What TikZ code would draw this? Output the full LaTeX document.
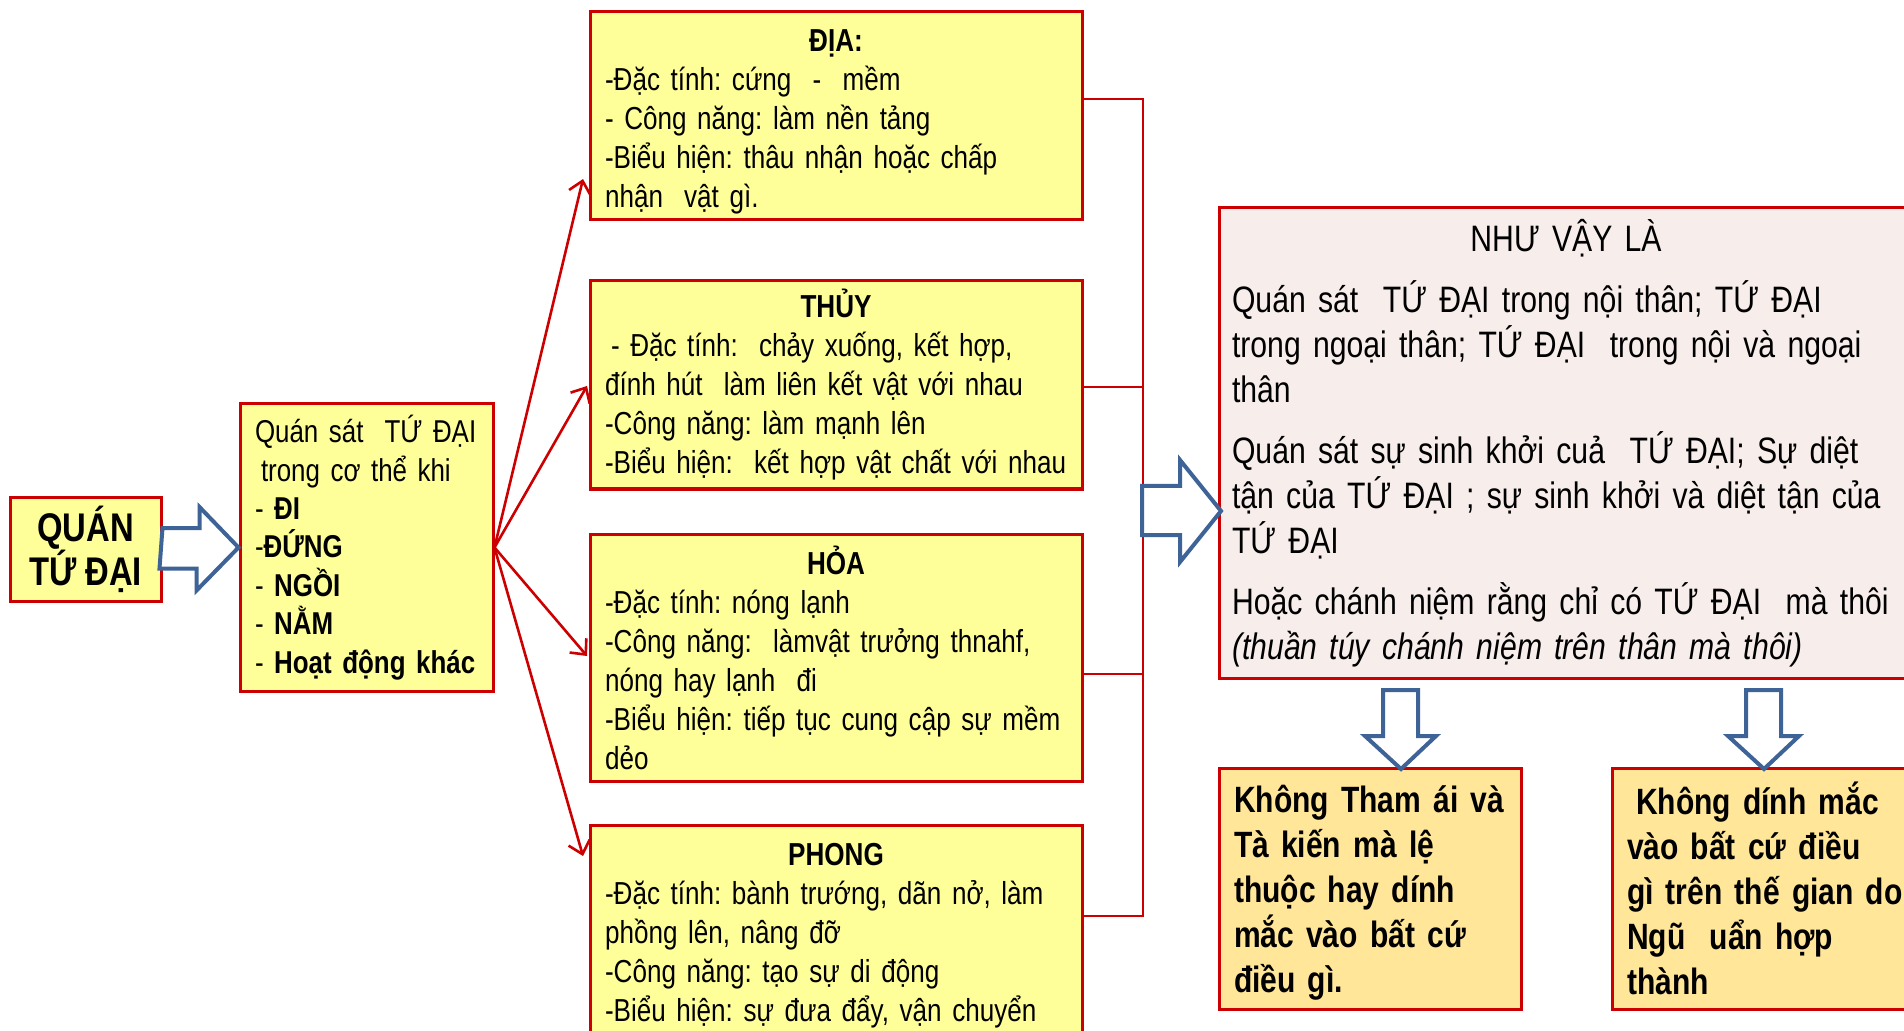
\documentclass[tikz,border=0pt]{standalone}
\usepackage{fontspec}
\setmainfont{Liberation Sans}[FakeStretch=0.82]
\usetikzlibrary{arrows.meta}
\frenchspacing
% small left pad used inside boxes with a narrow inner sep
\newcommand{\lpad}[1][2.5pt]{\hspace*{#1}}

\definecolor{boxred}{HTML}{CC0000}
\definecolor{paleyellow}{HTML}{FFFF99}
\definecolor{paleorange}{HTML}{FFE699}
\definecolor{palepink}{HTML}{F7EEEC}
\definecolor{arrowblue}{HTML}{3E6397}

\tikzset{
  panel/.style={draw=boxred, line width=1.5pt, inner xsep=7.5pt, inner ysep=0pt, align=left},
  elembox/.style={panel, fill=paleyellow, text width=231pt, minimum height=#1,
    font=\frenchspacing\fontsize{15.9}{19.5}\selectfont},
  resultbox/.style={panel, fill=paleorange, minimum height=120.5pt, inner xsep=5pt,
    font=\frenchspacing\bfseries\fontsize{18.3}{22.5}\selectfont},
  link/.style={draw=boxred, line width=1.3pt, line join=miter},
  fanarrow/.style={link, -{Straight Barb[length=6pt,width=11pt,line width=1.3pt]}},
  blockarrow/.style={draw=arrowblue, line width=2pt, fill=white, line join=miter},
}

\begin{document}
\begin{tikzpicture}[x=0.5pt, y=-0.5pt]
\useasboundingbox (0,0) rectangle (1904,1031);
\clip (0,0) rectangle (1904,1031);
\fill[white] (0,0) rectangle (1904,1031);

% title box and body-posture box
\node[panel, fill=paleyellow, align=center, minimum width=75.5pt, minimum height=52pt,
      inner xsep=0pt, font=\bfseries\fontsize{20}{22}\selectfont]
  (quan) at (85.5,549) {QUÁN\\TỨ ĐẠI};
\node[panel, fill=paleyellow, text width=117.5pt, minimum height=143.5pt, inner xsep=4.5pt,
      font=\frenchspacing\fontsize{15.8}{19.2}\selectfont]
  (qs) at (366.5,547.5) {\lpad[3pt]Quán sát~ TỨ ĐẠI\\
  \lpad[6pt]trong cơ thể khi\\
  \lpad[3pt]- \textbf{ĐI}\\
  \lpad[3pt]-\textbf{ĐỨNG}\\
  \lpad[3pt]- \textbf{NGỒI}\\
  \lpad[3pt]- \textbf{NẰM}\\
  \lpad[3pt]- \textbf{Hoạt động khác}};

% the four elements
\node[elembox=104pt] (dia) at (836,116) {\makebox[\hsize]{\rule{0pt}{16.6pt}\bfseries ĐỊA:}\\
  -Đặc tính: cứng~ -~ mềm\\
  - Công năng: làm nền tảng\\
  -Biểu hiện: thâu nhận hoặc chấp\\
  nhận~ vật gì.};
\node[elembox=104pt] (thuy) at (836,385) {\makebox[\hsize]{\bfseries THỦY}\\
  \lpad[3pt]- Đặc tính:~ chảy xuống, kết hợp,\\
  đính hút~ làm liên kết vật với nhau\\
  -Công năng: làm mạnh lên\\
  -Biểu hiện:~ kết hợp vật chất với nhau};
\node[elembox=123.5pt] (hoa) at (836,657.5) {\makebox[\hsize]{\bfseries HỎA}\\
  -Đặc tính: nóng lạnh\\
  -Công năng:~ làmvật trưởng thnahf,\\
  nóng hay lạnh~ đi\\
  -Biểu hiện: tiếp tục cung cập sự mềm\\
  dẻo};
\node[elembox=105pt] (phong) at (836,930) {\makebox[\hsize]{\rule{0pt}{16.6pt}\bfseries PHONG}\\
  -Đặc tính: bành trướng, dãn nở, làm\\
  phồng lên, nâng đỡ\\
  -Công năng: tạo sự di động\\
  -Biểu hiện: sự đưa đẩy, vận chuyển};

% conclusion box
\node[panel, fill=palepink, text width=334pt, minimum height=235pt, inner xsep=6.5pt,
      font=\frenchspacing\fontsize{18.4}{22.5}\selectfont]
  (nhu) at (1566,443) {\makebox[\hsize]{NHƯ VẬY LÀ}\\[8pt]
  Quán sát~ TỨ ĐẠI trong nội thân; TỨ ĐẠI\\
  trong ngoại thân; TỨ ĐẠI~ trong nội và ngoại\\
  thân\\[8pt]
  Quán sát sự sinh khởi cuả~ TỨ ĐẠI; Sự diệt\\
  tận của TỨ ĐẠI ; sự sinh khởi và diệt tận của\\
  TỨ ĐẠI\\[8pt]
  Hoặc chánh niệm rằng chỉ có TỨ ĐẠI~ mà thôi\\
  \textit{(thuần túy chánh niệm trên thân mà thôi)}};

% results
\node[resultbox, text width=141pt] (kq1) at (1370,888.5) {\lpad\rule{0pt}{18pt}Không Tham ái và\\
  \lpad Tà kiến mà lệ\\
  \lpad thuộc hay dính\\
  \lpad mắc vào bất cứ\\
  \lpad điều gì.};
\node[resultbox, text width=149pt] (kq2) at (1771,888.5) {\lpad[7pt]Không dính mắc\\
  \lpad vào bất cứ điều\\
  \lpad gì trên thế gian do\\
  \lpad Ngũ~ uẩn hợp\\
  \lpad thành};

% fan of arrows to the elements
\coordinate (tdia) at (583,179);
\coordinate (tthuy) at (587,386);
\coordinate (thoa) at (587,656);
\coordinate (tphong) at (583,856);
\draw[fanarrow] (qs.east) -- (tdia);
\draw[fanarrow] (qs.east) -- (tthuy);
\draw[fanarrow] (qs.east) -- (thoa);
\draw[fanarrow] (qs.east) -- (tphong);

% collecting bus on the right of the elements
\coordinate (j1) at (1143,99);
\coordinate (j2) at (1143,387);
\coordinate (j3) at (1143,674);
\coordinate (j4) at (1143,916);
\draw[link] (dia.east |- j1) -- (j1) -- (j4) -- (phong.east |- j4);
\draw[link] (thuy.east |- j2) -- (j2);
\draw[link] (hoa.east |- j3) -- (j3);

% block arrows
\draw[blockarrow] (quan.east) ++(0,-21) -- ++(37,0) -- ++(0,-21) -- (qs.west)
  -- ++(-42,43) -- ++(0,-22) -- ++(-37,0) -- cycle;
\coordinate (bigtip) at (1221,511);
\draw[blockarrow] (bigtip) -- ++(-41,-51) -- ++(0,26) -- ++(-38,0) -- ++(0,49)
  -- ++(38,0) -- ++(0,27) -- cycle;
\coordinate (down1) at (1401,769);
\coordinate (down2) at (1764,769);
\draw[blockarrow] (down1) -- ++(-36,-33) -- ++(18,0) -- ++(0,-46) -- ++(35,0)
  -- ++(0,46) -- ++(18,0) -- cycle;
\draw[blockarrow] (down2) -- ++(-36,-33) -- ++(18,0) -- ++(0,-46) -- ++(35,0)
  -- ++(0,46) -- ++(18,0) -- cycle;
\end{tikzpicture}
\end{document}
